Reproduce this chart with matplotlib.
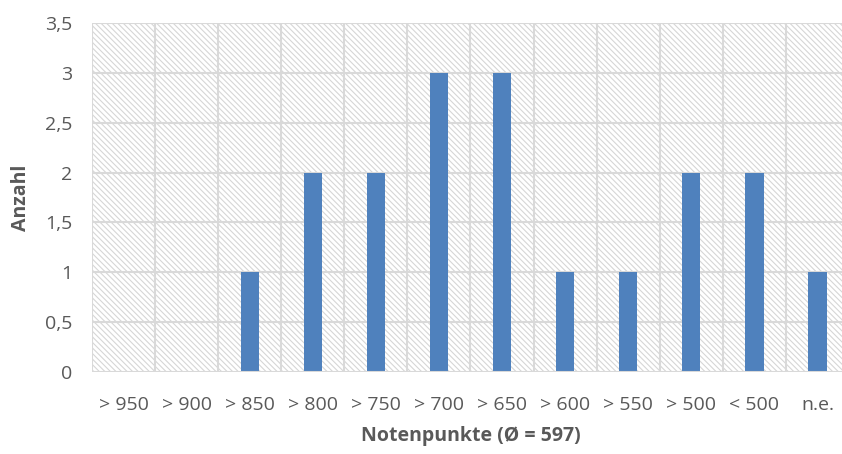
import matplotlib.pyplot as plt
from matplotlib.patches import Rectangle
from matplotlib.ticker import FuncFormatter, MultipleLocator

categories = ["> 950", "> 900", "> 850", "> 800", "> 750", "> 700",
              "> 650", "> 600", "> 550", "> 500", "< 500", "n.e."]
counts = [0, 0, 1, 2, 2, 3, 3, 1, 1, 2, 2, 1]

plt.rcParams['font.family'] = ['Open Sans', 'DejaVu Sans']
plt.rcParams['hatch.linewidth'] = 0.8
plt.rcParams['hatch.color'] = '#d6d6d6'

text_col = '#595959'
grid_col = '#d9d9d9'

fig = plt.figure(figsize=(8.42, 4.54), dpi=100)
ax = fig.add_axes([92 / 842, 82 / 454, 757 / 842, 349 / 454])

# hatched background
bg = Rectangle((0, 0), 1, 1, transform=ax.transAxes, facecolor='white',
               edgecolor='#d6d6d6', hatch='\\' * 6, linewidth=0, zorder=0)
ax.add_patch(bg)

x = list(range(len(categories)))
ax.bar(x, counts, width=0.29, color='#4f81bd', zorder=3)

ax.set_xlim(-0.5, len(categories) - 0.5)
ax.set_ylim(0, 3.5)
ax.yaxis.set_major_locator(MultipleLocator(0.5))
ax.yaxis.set_major_formatter(FuncFormatter(lambda v, p: ('%g' % v).replace('.', ',')))

# grid lines: horizontal at ticks, vertical at category borders
for yv in [0.5 * i for i in range(1, 8)]:
    ax.axhline(yv, color=grid_col, linewidth=1.5, zorder=1)
for xv in range(len(categories) + 1):
    ax.axvline(xv - 0.5, color=grid_col, linewidth=1.5, zorder=1)
ax.axhline(0, color=grid_col, linewidth=1.5, zorder=4)

ax.set_xticks(x)
ax.set_xticklabels(categories)
for s in ax.spines.values():
    s.set_visible(False)
ax.tick_params(length=0, labelsize=14, colors=text_col, pad=17)
ax.tick_params(axis='y', pad=14)

ax.set_xlabel("Notenpunkte (Ø = 597)", fontsize=14, fontweight='bold',
              color=text_col, labelpad=9)
ax.set_ylabel("Anzahl", fontsize=14, fontweight='bold', color=text_col,
              labelpad=10)

fig.savefig('out.png', dpi=100)
